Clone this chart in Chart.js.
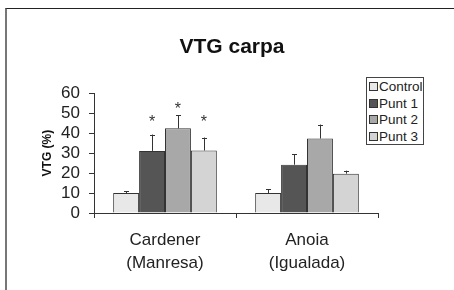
<!DOCTYPE html>
<html>
<head>
<meta charset="utf-8">
<script src="https://cdn.jsdelivr.net/npm/chart.js@4.4.0/dist/chart.umd.min.js"></script>
<style>
    html, body { margin: 0; padding: 0; background: #fff; }
    #wrap { position: relative; width: 454px; height: 290px; overflow: hidden; }
    #marc { position: absolute; left: 5px; top: 8px; width: 470px; height: 300px;
            border-top: 1.5px solid #222; border-left: 2px solid #777; }
    #grafic { position: absolute; left: 0; top: 0; }
    #llegenda { position: absolute; left: 366px; top: 77px; width: 58px; height: 68px;
                border: 1px solid #444; background: #fff; box-sizing: border-box;
                font: 13.5px "Liberation Sans", Arial, sans-serif; color: #222; padding-top: 1px; }
    #llegenda div { height: 16.6px; line-height: 16.6px; white-space: nowrap; padding-left: 2px; }
    #llegenda span { display: inline-block; width: 7px; height: 7px; border: 1px solid #333;
                     margin-right: 1px; vertical-align: 0px; }
</style>
</head>
<body>
<div id="wrap">
    <div id="marc"></div>
    <canvas id="grafic" width="454" height="290"></canvas>
    <div id="llegenda"></div>
</div>
<script>
//dades llegides de la figura
const categories = [['Cardener', '(Manresa)'], ['Anoia', '(Igualada)']]
const series = ['Control', 'Punt 1', 'Punt 2', 'Punt 3']
const control = [10, 10]
const controlErr = [1.0, 1.9]
const punt1 = [31.1, 24.2]
const punt1Err = [8.2, 5.2]
const punt2 = [42.4, 37.3]
const punt2Err = [6.5, 7.0]
const punt3 = [31.3, 19.7]
const punt3Err = [6.5, 1.5]
//asteriscs (nivell on es dibuixen, null = sense)
const punt1Ast = [47.6, null]
const punt2Ast = [54.2, null]
const punt3Ast = [47.6, null]
const yMin = 0
const yMax = 60
const yStep = 10

const colors = ['#e8e8e8', '#555555', '#a8a8a8', '#d4d4d4']
const valors = [control, punt1, punt2, punt3]
const errors = [controlErr, punt1Err, punt2Err, punt3Err]
const asteriscs = [[null, null], punt1Ast, punt2Ast, punt3Ast]
const FONT = '"Liberation Sans", Arial, sans-serif'

//llegenda html
let str = ''
for (let i = 0; i < series.length; i++) {
    str = str + `<div><span style="background:${colors[i]}"></span>${series[i]}</div>`
}
document.getElementById('llegenda').innerHTML = str

//barres d'error i asteriscs
const errorPlugin = {
    id: 'errorBars',
    afterDatasetsDraw(chart) {
        const ctx = chart.ctx
        const y = chart.scales.y
        ctx.save()
        ctx.strokeStyle = '#333'
        ctx.lineWidth = 1
        chart.data.datasets.forEach((ds, i) => {
            const meta = chart.getDatasetMeta(i)
            meta.data.forEach((bar, j) => {
                const top = y.getPixelForValue(ds.data[j] + errors[i][j])
                ctx.beginPath()
                ctx.moveTo(Math.round(bar.x) + 0.5, bar.y)
                ctx.lineTo(Math.round(bar.x) + 0.5, top)
                ctx.moveTo(Math.round(bar.x) - 2, Math.round(top) + 0.5)
                ctx.lineTo(Math.round(bar.x) + 3, Math.round(top) + 0.5)
                ctx.stroke()
                const a = asteriscs[i][j]
                if (a !== null) {
                    ctx.fillStyle = '#333'
                    ctx.font = '16px ' + FONT
                    ctx.textAlign = 'center'
                    ctx.textBaseline = 'alphabetic'
                    ctx.fillText('*', bar.x, y.getPixelForValue(a) + 0.57 * 16)
                }
            })
        })
        ctx.restore()
    }
}

const data = {
    labels: categories,
    datasets: series.map((s, i) => ({
        label: s,
        data: valors[i],
        backgroundColor: colors[i],
        borderColor: '#333',
        borderWidth: 1,
        categoryPercentage: 0.73,
        barPercentage: 1.0
    }))
}

const config = {
    type: 'bar',
    data: data,
    options: {
        responsive: false,
        animation: false,
        layout: { padding: { left: 10, right: 0, top: 0, bottom: 0 } },
        plugins: {
            legend: { display: false },
            tooltip: { enabled: false },
            title: {
                display: true,
                text: 'VTG carpa',
                color: '#111',
                font: { family: FONT, size: 21, weight: 'bold' },
                padding: { top: 35, bottom: 33 }
            }
        },
        scales: {
            x: {
                grid: { offset: true, drawOnChartArea: false, drawTicks: true, tickLength: 5, color: '#333' },
                border: { color: '#333', width: 1 },
                ticks: { color: '#222', padding: 11, font: { family: FONT, size: 17, lineHeight: 1.35 } },
                afterFit(scale) { scale.height = 77 }
            },
            y: {
                min: yMin,
                max: yMax,
                grid: { drawOnChartArea: false, tickLength: 5, color: '#333' },
                border: { color: '#333', width: 1 },
                ticks: { stepSize: yStep, autoSkip: false, color: '#222', padding: 9,
                         font: { family: FONT, size: 17, lineHeight: 1 } },
                title: {
                    display: true,
                    text: 'VTG (%)',
                    color: '#111',
                    font: { family: FONT, size: 12, weight: 'bold' },
                    padding: { top: 30, bottom: 0 }
                },
                afterFit(scale) { scale.width = 84 }
            },
            //eix buit per reservar l'espai de la llegenda
            dreta: {
                type: 'linear',
                position: 'right',
                display: true,
                grid: { display: false },
                border: { display: false },
                ticks: { display: false },
                afterFit(scale) { scale.width = 76 }
            }
        }
    },
    plugins: [errorPlugin]
}

new Chart(document.getElementById('grafic'), config)
</script>
</body>
</html>
